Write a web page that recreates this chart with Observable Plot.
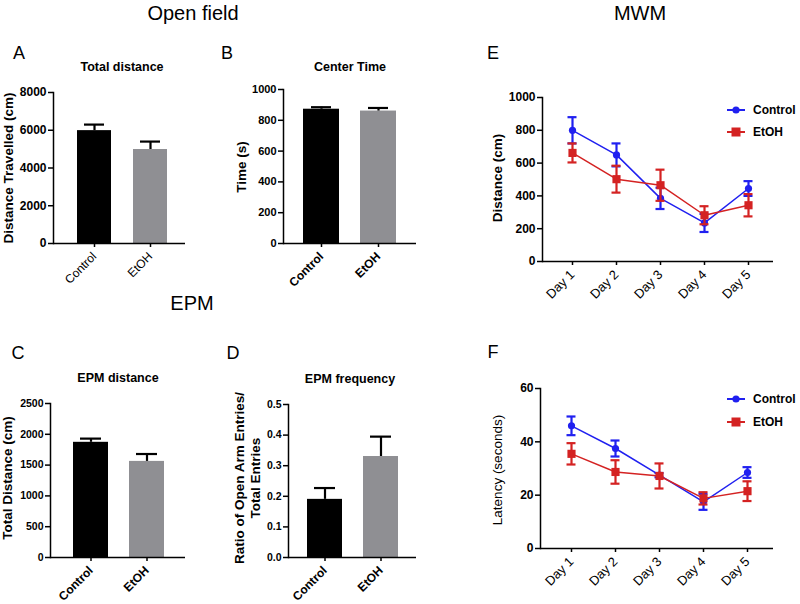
<!DOCTYPE html>
<html>
<head>
<meta charset="utf-8">
<script src="https://cdn.jsdelivr.net/npm/d3@7"></script>
<script src="https://cdn.jsdelivr.net/npm/@observablehq/plot@0.6"></script>
<style>
  html, body { margin: 0; padding: 0; background: #fff; }
  #root { position: relative; width: 800px; height: 604px; background: #fff; overflow: hidden;
          font-family: "Liberation Sans", Arial, sans-serif; color: #000; }
  .abs { position: absolute; white-space: nowrap; line-height: 1; }
  .c { transform: translate(-50%, -50%); }
  .r { transform: translate(-50%, -50%) rotate(-90deg); text-align: center; }
  .sec { font-size: 20px; }
  .let { font-size: 18px; }
  .ttl { font-size: 12.5px; font-weight: bold; }
  .ylab { font-size: 13.5px; font-weight: bold; }
  .leg { font-size: 12px; font-weight: bold; display: flex; align-items: center; gap: 7px; transform: translate(0, -50%); }
  .panel { position: absolute; }
</style>
</head>
<body>
<div id="root"></div>
<script>
// ---------- data ----------
const groups = ["Control", "EtOH"];
const totalDistance = [5980, 4980];
const totalDistanceErr = [320, 420];
const centerTime = [872, 860];
const centerTimeErr = [13, 20];
const epmDistance = [1870, 1560];
const epmDistanceErr = [60, 120];
const epmFrequency = [0.19, 0.33];
const epmFrequencyErr = [0.037, 0.065];

const days = ["Day 1", "Day 2", "Day 3", "Day 4", "Day 5"];
const series = ["Control", "EtOH"];
const distControl = [800, 650, 385, 235, 445];
const distControlErr = [80, 70, 65, 55, 45];
const distEtOH = [662, 502, 465, 282, 343];
const distEtOHErr = [58, 82, 95, 55, 68];
const latControl = [46, 37.5, 27.5, 17.5, 28.5];
const latControlErr = [3.5, 3, 0.8, 3, 2];
const latEtOH = [35.5, 28.7, 27.2, 18.8, 21.5];
const latEtOHErr = [4, 4.4, 4.7, 2.3, 3.7];

const barColors = ["#000000", "#8f8f93"];
const lineColors = ["#2020f0", "#d42222"];

const root = document.getElementById("root");
const FONT = "'Liberation Sans', Arial, sans-serif";

function addText(cls, text, x, y) {
  const d = document.createElement("div");
  d.className = "abs " + cls;
  d.textContent = text;
  d.style.left = x + "px";
  d.style.top = y + "px";
  root.appendChild(d);
  return d;
}
function addYLabel(lines, x, y, bold = true) {
  const d = document.createElement("div");
  d.className = "abs r ylab";
  if (!bold) d.style.fontWeight = "normal";
  d.innerHTML = lines.map(s => s.replace(/&/g, "&amp;")).join("<br>");
  d.style.lineHeight = "1.2";
  d.style.left = x + "px";
  d.style.top = y + "px";
  root.appendChild(d);
}
function place(svg, left, top) {
  const w = document.createElement("div");
  w.className = "panel";
  w.style.left = left + "px";
  w.style.top = top + "px";
  w.appendChild(svg);
  root.appendChild(w);
}

function barPanel(o) {
  const rows = groups.map((g, i) => ({g, v: o.values[i], e: o.err[i]}));
  return Plot.plot({
    width: o.w, height: o.h,
    marginLeft: o.ml, marginRight: o.mr, marginTop: o.mt, marginBottom: o.mb,
    style: {fontFamily: FONT, fontSize: o.fs + "px", fontWeight: "bold", background: "transparent", color: "#000", overflow: "visible"},
    x: {domain: groups, paddingInner: o.pi, paddingOuter: o.po, align: o.align, label: null},
    y: {domain: o.domain, label: null},
    color: {domain: groups, range: barColors},
    marks: [
      Plot.barY(rows, {x: "g", y: "v", fill: "g"}),
      Plot.ruleX(rows, {x: "g", y1: "v", y2: d => d.v + d.e, stroke: "#000", strokeWidth: 2.2}),
      Plot.tickY(rows, {x: "g", y: d => d.v + d.e, stroke: "#000", strokeWidth: 2.2, insetLeft: o.cap, insetRight: o.cap}),
      Plot.frame({anchor: "left", stroke: "#000", strokeWidth: 1.5}),
      Plot.ruleY([o.domain[0]], {stroke: "#000", strokeWidth: 1.5}),
      Plot.axisY({ticks: o.ticks, tickFormat: o.fmt, tickSize: 5, tickPadding: 2, fontSize: o.fs, label: null, strokeWidth: 1.5}),
      Plot.axisX({tickRotate: -45, tickSize: 4, tickPadding: 7, fontSize: 12, fontWeight: o.xBold ? "bold" : "normal", label: null, strokeWidth: 1.5})
    ]
  });
}

function linePanel(o) {
  const rows = [];
  days.forEach((d, i) => rows.push({day: d, s: "Control", v: o.c[i], e: o.ce[i]}));
  days.forEach((d, i) => rows.push({day: d, s: "EtOH", v: o.t[i], e: o.te[i]}));
  const marksFor = s => {
    const r = rows.filter(d => d.s === s);
    return [
      Plot.ruleX(r, {x: "day", y1: d => d.v - d.e, y2: d => d.v + d.e, stroke: "s", strokeWidth: 2.2}),
      Plot.ruleY(r, {x1: "day", x2: "day", y: d => d.v + d.e, stroke: "s", strokeWidth: 2.2, insetLeft: -4.5, insetRight: -4.5}),
      Plot.ruleY(r, {x1: "day", x2: "day", y: d => d.v - d.e, stroke: "s", strokeWidth: 2.2, insetLeft: -4.5, insetRight: -4.5}),
      Plot.line(r, {x: "day", y: "v", stroke: "s", strokeWidth: 1.5}),
      Plot.dot(r, {x: "day", y: "v", fill: "s", symbol: s === "Control" ? "circle" : "square", r: s === "Control" ? 3.6 : 4.6, stroke: null})
    ];
  };
  return Plot.plot({
    width: o.w, height: o.h,
    marginLeft: o.ml, marginRight: o.mr, marginTop: o.mt, marginBottom: o.mb,
    style: {fontFamily: FONT, fontSize: "12px", fontWeight: "bold", background: "transparent", color: "#000", overflow: "visible"},
    x: {type: "point", domain: days, padding: o.pad, align: o.align, label: null},
    y: {domain: o.domain, label: null},
    color: {domain: series, range: lineColors},
    marks: [
      Plot.frame({anchor: "left", stroke: "#000", strokeWidth: 1.5}),
      Plot.ruleY([0], {stroke: "#000", strokeWidth: 1.5}),
      Plot.axisY({ticks: o.ticks, tickFormat: d3.format("d"), tickSize: 5, tickPadding: 2, fontSize: 12, label: null, strokeWidth: 1.5}),
      Plot.axisX({tickRotate: -45, tickSize: 4, tickPadding: 7, fontSize: 13, fontWeight: "normal", label: null, strokeWidth: 1.5}),
      ...marksFor("Control"),
      ...marksFor("EtOH")
    ]
  });
}

// ---------- panels ----------
place(barPanel({values: totalDistance, err: totalDistanceErr, domain: [0, 8000], ticks: [0, 2000, 4000, 6000, 8000],
  fmt: d3.format("d"), w: 200, h: 205, ml: 53, mr: 15, mt: 12, mb: 42, pi: 0.39, po: 0.37, align: 0.57, cap: 7, xBold: false, fs: 12}), 0, 80);

place(barPanel({values: centerTime, err: centerTimeErr, domain: [0, 1000], ticks: [0, 200, 400, 600, 800, 1000],
  fmt: d3.format("d"), w: 215, h: 205, ml: 78, mr: 4, mt: 9, mb: 42, pi: 0.37, po: 0.35, align: 0.5, cap: 8, xBold: true, fs: 11}), 205, 80);

place(barPanel({values: epmDistance, err: epmDistanceErr, domain: [0, 2500], ticks: [0, 500, 1000, 1500, 2000, 2500],
  fmt: d3.format("d"), w: 200, h: 210, ml: 50, mr: 15, mt: 13, mb: 43, pi: 0.37, po: 0.37, align: 0.52, cap: 7, xBold: true, fs: 10.5}), 0, 390);

place(barPanel({values: epmFrequency, err: epmFrequencyErr, domain: [0, 0.5], ticks: [0, 0.1, 0.2, 0.3, 0.4, 0.5],
  fmt: d3.format(".1f"), w: 215, h: 210, ml: 83, mr: 4, mt: 14, mb: 43, pi: 0.375, po: 0.33, align: 0.51, cap: 7, xBold: true, fs: 10.5}), 205, 390);

place(linePanel({c: distControl, ce: distControlErr, t: distEtOH, te: distEtOHErr, domain: [0, 1000],
  ticks: [0, 200, 400, 600, 800, 1000], w: 360, h: 225, ml: 102, mr: 27, mt: 17, mb: 44, pad: 0.625, align: 0.545}), 440, 80);

place(linePanel({c: latControl, ce: latControlErr, t: latEtOH, te: latEtOHErr, domain: [0, 60],
  ticks: [0, 20, 40, 60], w: 360, h: 225, ml: 100, mr: 27, mt: 18, mb: 47, pad: 0.618, align: 0.545}), 440, 370);

// ---------- texts ----------
addText("sec c", "Open field", 193, 13);
addText("sec c", "MWM", 640, 13);
addText("sec c", "EPM", 192, 303);

addText("let c", "A", 19, 53);
addText("let c", "B", 227, 53);
addText("let c", "C", 18, 353);
addText("let c", "D", 233, 353);
addText("let c", "E", 493, 53);
addText("let c", "F", 493, 352);

addText("ttl c", "Total distance", 122, 67);
addText("ttl c", "Center Time", 350, 67);
addText("ttl c", "EPM distance", 118, 378);
addText("ttl c", "EPM frequency", 350, 379);

addYLabel(["Distance Travelled (cm)"], 9, 168);
addYLabel(["Time (s)"], 242, 167);
addYLabel(["Total Distance (cm)"], 8, 478);
addYLabel(["Ratio of Open Arm Entries/", "Total Entries"], 248, 478);
addYLabel(["Distance (cm)"], 498, 178);
addYLabel(["Latency (seconds)"], 498, 470, false);

// ---------- legends ----------
function legend(x, y, label, color, sym) {
  const d = document.createElement("div");
  d.className = "abs leg";
  d.style.left = x + "px";
  d.style.top = y + "px";
  const marker = sym === "circle"
    ? `<circle cx="10" cy="6" r="3.6" fill="${color}"/>`
    : `<rect x="5.5" y="1.5" width="9" height="9" fill="${color}"/>`;
  d.innerHTML = `<svg width="20" height="12"><line x1="1" y1="6" x2="19" y2="6" stroke="${color}" stroke-width="2"/>${marker}</svg><span>${label}</span>`;
  root.appendChild(d);
}
legend(726, 110, series[0], lineColors[0], "circle");
legend(726, 132, series[1], lineColors[1], "square");
legend(726, 399, series[0], lineColors[0], "circle");
legend(726, 422, series[1], lineColors[1], "square");
</script>
</body>
</html>
